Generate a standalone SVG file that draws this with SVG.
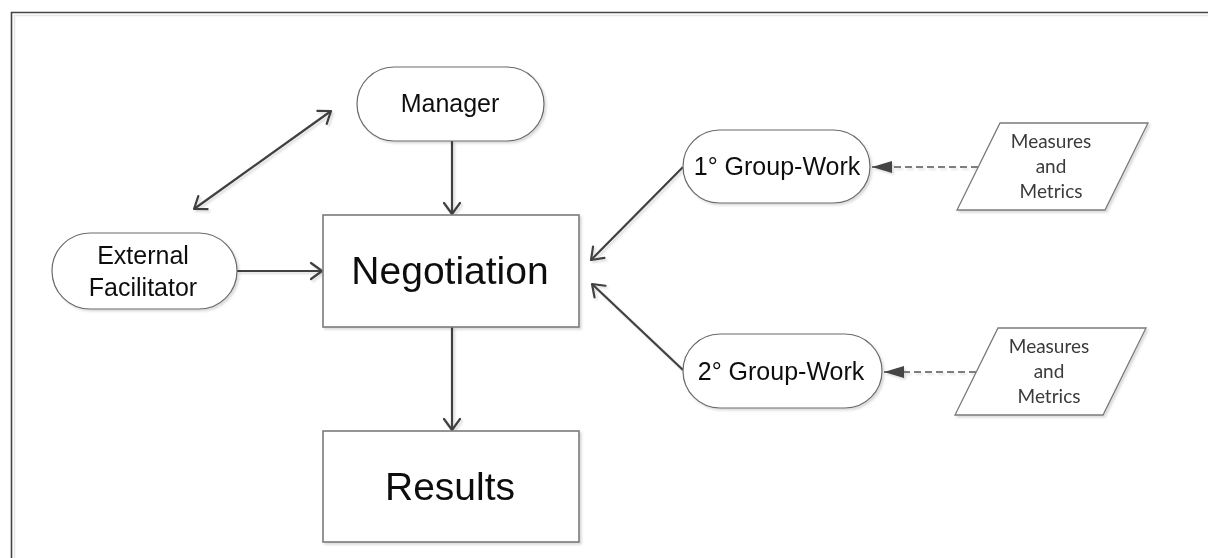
<svg xmlns="http://www.w3.org/2000/svg" width="1208" height="558" viewBox="0 0 1208 558">
  <style>
    .pill { fill: #ffffff; stroke: #6a6a6a; stroke-width: 1.2; }
    .box { fill: #ffffff; stroke: #7a7a7a; stroke-width: 1.6; }
    .para { fill: #ffffff; stroke: #7a7a7a; stroke-width: 1.3; }
    .lbl { font-family: "Liberation Sans", Arial, sans-serif; font-size: 25px; fill: #111; text-anchor: middle; }
    .big { font-family: "Liberation Sans", Arial, sans-serif; font-size: 39px; fill: #111; text-anchor: middle; }
    .mm { font-family: Lato, "Noto Sans", sans-serif; font-size: 19px; fill: #3a3a3a; text-anchor: middle; }
    .flow { fill: none; stroke: #404040; stroke-width: 2.2; }
    .dash { fill: none; stroke: #555; stroke-width: 1.3; stroke-dasharray: 7 4; }
    .sh { filter: url(#soft); }
  </style>
  <defs>
    <filter id="soft" x="-10%" y="-10%" width="130%" height="130%">
      <feDropShadow dx="2" dy="2" stdDeviation="1" flood-color="#000" flood-opacity="0.14"/>
    </filter>
    <!-- open chevron head for the solid flow lines -->
    <marker id="open" viewBox="0 0 16 20" refX="13" refY="10" markerWidth="16" markerHeight="20" markerUnits="userSpaceOnUse" orient="auto-start-reverse">
      <path d="M2,2 L13,10 L2,18" fill="none" stroke="#404040" stroke-width="2.2" stroke-linecap="round" stroke-linejoin="round"/>
    </marker>
    <!-- filled triangle head for the dashed inputs -->
    <marker id="solid" viewBox="0 0 20 12" refX="20" refY="6" markerWidth="20" markerHeight="12" markerUnits="userSpaceOnUse" orient="auto">
      <path d="M0,6 L20,0 L20,12 Z" transform="rotate(180 10 6)" fill="#444"/>
    </marker>
  </defs>

  <rect width="1208" height="558" fill="#ffffff"/>

  <!-- outer frame (open at right and bottom) -->
  <path d="M14.5,558 V15.5 H1208" fill="none" stroke="#e6e6e6" stroke-width="1.5"/>
  <path d="M11.5,558 V12.5 H1208" fill="none" stroke="#454545" stroke-width="1.6"/>

  <!-- connectors -->
  <g id="connectors" class="sh">
    <line class="flow" x1="452" y1="141" x2="452" y2="214" marker-end="url(#open)"/>
    <line class="flow" x1="237" y1="271" x2="322" y2="271" marker-end="url(#open)"/>
    <line class="flow" x1="452" y1="327" x2="452" y2="430" marker-end="url(#open)"/>
    <line class="flow" x1="194" y1="209" x2="331" y2="111" marker-start="url(#open)" marker-end="url(#open)"/>
    <line class="flow" x1="683" y1="167" x2="591" y2="260" marker-end="url(#open)"/>
    <line class="flow" x1="683" y1="370" x2="592" y2="284" marker-end="url(#open)"/>
    <line class="dash" x1="978" y1="167" x2="872" y2="167" marker-end="url(#solid)"/>
    <line class="dash" x1="976" y1="372" x2="884" y2="372" marker-end="url(#solid)"/>
  </g>

  <g id="manager" class="sh">
    <rect class="pill" x="357" y="67" width="187" height="74" rx="37"/>
    <text class="lbl" x="450" y="112">Manager</text>
  </g>

  <g id="external-facilitator" class="sh">
    <rect class="pill" x="52" y="233" width="185" height="76" rx="38"/>
    <text class="lbl" x="143" y="264">External</text>
    <text class="lbl" x="143" y="296">Facilitator</text>
  </g>

  <g id="negotiation" class="sh">
    <rect class="box" x="323" y="215" width="256" height="112"/>
    <text class="big" x="450" y="284">Negotiation</text>
  </g>

  <g id="results" class="sh">
    <rect class="box" x="323" y="431" width="256" height="111"/>
    <text class="big" x="450" y="500">Results</text>
  </g>

  <g id="group-work-1" class="sh">
    <rect class="pill" x="683" y="130" width="187" height="73" rx="36.5"/>
    <text class="lbl" x="777" y="175">1° Group-Work</text>
  </g>

  <g id="group-work-2" class="sh">
    <rect class="pill" x="683" y="334" width="199" height="74" rx="37"/>
    <text class="lbl" x="781" y="380">2° Group-Work</text>
  </g>

  <g id="measures-1" class="sh">
    <polygon class="para" points="1000,123 1148,123 1105,210 957,210"/>
    <text class="mm" x="1051" y="148">Measures</text>
    <text class="mm" x="1051" y="173">and</text>
    <text class="mm" x="1051" y="198">Metrics</text>
  </g>

  <g id="measures-2" class="sh">
    <polygon class="para" points="998,328 1146,328 1103,415 955,415"/>
    <text class="mm" x="1049" y="353">Measures</text>
    <text class="mm" x="1049" y="378">and</text>
    <text class="mm" x="1049" y="403">Metrics</text>
  </g>
</svg>
